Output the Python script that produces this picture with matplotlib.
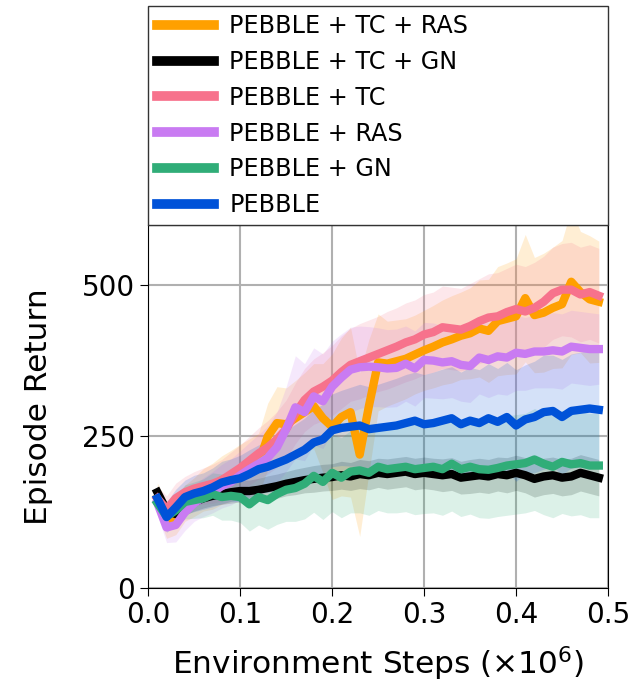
import numpy as np
import matplotlib
matplotlib.use("Agg")
import matplotlib.pyplot as plt

# x axis: environment steps (x1e6)
steps = np.round(np.arange(0.01, 0.495, 0.01), 2)

labels = ["PEBBLE + TC + RAS", "PEBBLE + TC + GN", "PEBBLE + TC",
          "PEBBLE + RAS", "PEBBLE + GN", "PEBBLE"]
colors = ["#ffa000", "#000000", "#f7728c", "#c97bf2", "#30ad78", "#0052d8"]

# mean episode return per method
tc_ras = [148, 112, 118, 140, 150, 162, 168, 178, 185, 192,
          198, 205, 250, 272, 270, 280, 290, 300, 280, 266,
          282, 290, 220, 300, 372, 370, 374, 378, 385, 392,
          398, 405, 410, 416, 420, 428, 424, 440, 444, 448,
          478, 450, 454, 462, 468, 505, 488, 476, 472]
tc_gn = [158, 128, 122, 135, 142, 148, 152, 155, 158, 160,
         160, 162, 165, 168, 172, 175, 178, 180, 182, 183,
         186, 184, 188, 186, 190, 188, 190, 192, 188, 190,
         188, 186, 188, 182, 184, 186, 184, 188, 186, 190,
         186, 180, 184, 186, 182, 184, 190, 186, 182]
tc = [148, 130, 148, 158, 164, 168, 172, 178, 188, 198,
      210, 222, 232, 245, 262, 288, 310, 324, 332, 342,
      356, 368, 374, 380, 386, 392, 398, 405, 410, 418,
      422, 430, 428, 426, 432, 440, 446, 448, 455, 460,
      456, 462, 472, 486, 492, 492, 484, 488, 482]
ras = [140, 100, 104, 125, 140, 150, 158, 168, 175, 186,
       196, 205, 215, 232, 262, 298, 290, 316, 308, 332,
       347, 360, 364, 365, 364, 362, 363, 370, 362, 376,
       375, 372, 374, 368, 366, 380, 376, 382, 380, 388,
       386, 390, 390, 392, 390, 398, 396, 394, 394]
gn = [140, 118, 128, 142, 145, 148, 155, 150, 152, 150,
      138, 150, 145, 155, 162, 165, 172, 185, 175, 190,
      182, 192, 194, 190, 200, 196, 198, 200, 196, 198,
      200, 196, 205, 196, 200, 196, 195, 198, 202, 204,
      206, 212, 205, 200, 208, 204, 206, 202, 202]
pebble = [148, 117, 133, 150, 156, 160, 166, 174, 178, 181,
          188, 196, 200, 206, 212, 220, 228, 240, 245, 260,
          264, 266, 268, 262, 264, 266, 268, 272, 276, 270,
          272, 276, 280, 270, 276, 272, 280, 274, 282, 268,
          278, 282, 290, 292, 282, 292, 294, 296, 294]

# spread of the shaded band per method
tc_ras_sd = [25, 30, 30, 30, 32, 35, 38, 40, 42, 45,
             48, 50, 55, 60, 60, 62, 65, 70, 90, 120,
             130, 140, 135, 110, 80, 70, 68, 66, 65, 66,
             68, 70, 72, 72, 75, 80, 85, 90, 92, 95,
             105, 95, 98, 100, 105, 120, 100, 105, 100]
tc_gn_sd = [10, 12, 14, 15, 15, 16, 16, 17, 18, 18,
            18, 19, 20, 20, 20, 21, 21, 22, 22, 22,
            23, 23, 24, 24, 24, 25, 25, 25, 26, 26,
            26, 27, 27, 27, 28, 28, 28, 28, 29, 29,
            29, 30, 30, 30, 30, 30, 30, 30, 30]
tc_sd = [20, 22, 25, 26, 28, 30, 32, 34, 36, 38,
         40, 42, 44, 46, 48, 50, 52, 54, 56, 58,
         60, 60, 62, 62, 62, 64, 64, 65, 65, 66,
         66, 68, 68, 68, 70, 70, 72, 72, 72, 74,
         74, 75, 75, 76, 76, 78, 78, 78, 78]
ras_sd = [20, 25, 28, 30, 30, 32, 34, 36, 38, 40,
          44, 48, 52, 58, 70, 85, 80, 80, 78, 75,
          72, 70, 68, 66, 65, 64, 64, 62, 62, 62,
          62, 60, 60, 60, 60, 60, 62, 62, 62, 62,
          60, 60, 60, 62, 62, 60, 60, 60, 58]
gn_sd = [15, 20, 25, 28, 30, 32, 35, 38, 40, 42,
         44, 46, 48, 50, 52, 55, 58, 60, 62, 64,
         66, 68, 70, 70, 72, 72, 74, 74, 75, 75,
         76, 76, 78, 78, 78, 80, 80, 80, 82, 82,
         82, 84, 84, 84, 85, 85, 85, 86, 86]
pebble_sd = [20, 25, 30, 28, 30, 30, 32, 35, 35, 38,
             40, 40, 42, 45, 48, 50, 52, 55, 58, 60,
             62, 65, 68, 70, 72, 75, 78, 80, 80, 82,
             84, 85, 85, 86, 88, 88, 90, 88, 90, 92,
             90, 92, 94, 92, 95, 94, 95, 96, 95]

means = [tc_ras, tc_gn, tc, ras, gn, pebble]
spreads = [tc_ras_sd, tc_gn_sd, tc_sd, ras_sd, gn_sd, pebble_sd]

fig = plt.figure(figsize=(6.36, 6.87), dpi=100)
ax = fig.add_axes([0.233, 0.144, 0.723, 0.528])

for m, s, c in zip(means, spreads, colors):
    m = np.array(m, dtype=float)
    s = np.array(s, dtype=float)
    ax.fill_between(steps, m - s, m + s, color=c, alpha=0.17, linewidth=0)

for m, c, lab in zip(means, colors, labels):
    ax.plot(steps, m, color=c, linewidth=6, label=lab)

ax.set_xlim(0, 0.5)
ax.set_ylim(0, 598)
ax.set_xticks([0.0, 0.1, 0.2, 0.3, 0.4, 0.5])
ax.set_yticks([0, 250, 500])
ax.grid(True, color='#b0b0b0', linewidth=1.5)
ax.set_axisbelow(True)
ax.tick_params(labelsize=20, length=6)
ax.set_xlabel(r'Environment Steps ($\times 10^6$)', fontsize=22.5, labelpad=11)
ax.set_ylabel('Episode Return', fontsize=22.5, labelpad=21)

leg = ax.legend(loc='lower left', bbox_to_anchor=(0, 1.0, 1, 0.6), mode='expand',
                borderaxespad=0, fontsize=17.2, fancybox=False, framealpha=1,
                edgecolor='#333333', handlelength=2.4, handletextpad=0.65,
                labelspacing=0.49, borderpad=0.35)
for line in leg.get_lines():
    line.set_linewidth(7)

fig.savefig("out.png", dpi=100)
